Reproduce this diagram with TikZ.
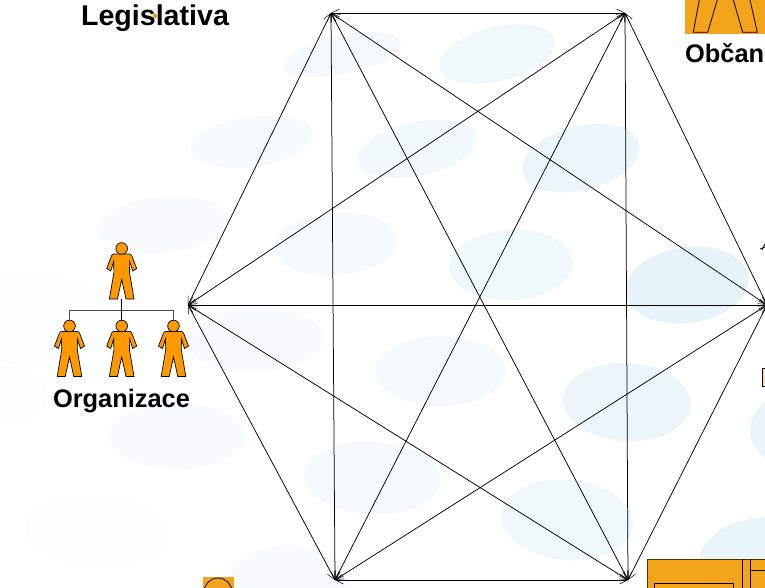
\documentclass[tikz,border=0pt]{standalone}
\usepackage{fontspec}
\setmainfont{Liberation Sans}
\usetikzlibrary{arrows.meta}
\definecolor{paleblue}{HTML}{DCEFF6}
\definecolor{figorange}{HTML}{FF9900}
\definecolor{boxorange}{HTML}{F4A41A}
\tikzset{
  x=1pt,y=-1pt,
  link/.style={line width=0.75pt,black,{Straight Barb[length=8pt,width=8pt,line width=0.5pt]}-{Straight Barb[length=8pt,width=8pt,line width=0.5pt]}},
  label/.style={inner sep=0pt,font=\bfseries,text=black},
  figure/.style={draw=black,line width=0.7pt,fill=figorange,line join=miter},
  boxline/.style={draw=black,line width=0.8pt},
  tree/.style={draw=black!70,line width=1pt},
  pics/person/.style={code={
    \path[figure] (0,5.5) -- (8.5,5.5) -- (10,7) -- (15,20) -- (11,22.5) -- (8,13) -- (7.8,24)
      -- (12.3,50.5) -- (4.3,50.5) -- (0,31) -- (-4.3,50.5) -- (-12.3,50.5) -- (-7.8,24)
      -- (-8,13) -- (-11,22.5) -- (-15,20) -- (-10,7) -- (-8.5,5.5) -- cycle;
    \path[figure] (0,0) circle [radius=5.8pt];
  }}
}
\begin{document}
\begin{tikzpicture}
\useasboundingbox (0,0) rectangle (765,588);
\clip (0,0) rectangle (765,588);
\fill[white] (0,0) rectangle (765,588);
% background ellipses
\foreach \ex/\ey/\ea/\eb/\rot/\tint in {
  342/55/60/19/12/35, 497/54/59/27/14/45,
  252/142/62/25/8/25, 417/149/61/27/12/40, 581/158/60/32/14/55,
  163/225/65/28/5/17, 336/244/63/31/5/30, 511/265/62/35/3/45, 687/285/62/38/8/72,
  30/320/85/45/0/12, 256/340/68/32/2/20, 441/371/65/35/0/36, 627/402/64/39/-3/55, 800/430/50/40/0/60,
  0/395/48/30/0/12, 177/436/68/33/0/18, 372/478/68/36/-3/32, 567/520/66/40/-5/45, 770/565/72/48/0/65,
  97/531/72/35/-3/11, 290/582/60/36/-3/20} {
  \fill[paleblue!\tint!white,shift={(\ex,\ey)},rotate=\rot] (0,0) ellipse [x radius=\ea pt,y radius=\eb pt];
}
% hexagon corners
\coordinate (A) at (331,13);
\coordinate (B) at (625,13);
\coordinate (C) at (767,305);
\coordinate (D) at (628,580);
\coordinate (E) at (335,580);
\coordinate (F) at (188,305);
\draw[link] (A) -- (B);
\draw[link] (B) -- (C);
\draw[link] (C) -- (D);
\draw[link] (D) -- (E);
\draw[link] (E) -- (F);
\draw[link] (F) -- (A);
\draw[link] (A) -- (C);
\draw[link] (A) -- (D);
\draw[link] (A) -- (E);
\draw[link] (B) -- (D);
\draw[link] (B) -- (E);
\draw[link] (B) -- (F);
\draw[link] (C) -- (E);
\draw[link] (C) -- (F);
\draw[link] (D) -- (F);
% organisation tree
\coordinate (treetop) at (121.7,299);
\coordinate (treebar) at (121.7,310);
\coordinate (treeL) at (69.5,310);
\coordinate (treeR) at (173.5,310);
\coordinate (treeLd) at (69.5,322);
\coordinate (treeMd) at (121.7,322);
\coordinate (treeRd) at (173.5,322);
\draw[tree] (treeLd) -- (treeL) -- (treeR) -- (treeRd);
\draw[line width=0.8pt,black] (treetop) -- (treeMd);
\pic at (121.7,248.5) {person};
\pic at (69.5,326) {person};
\pic at (121.7,326) {person};
\pic at (173.5,326) {person};
% labels
\node[label,font=\bfseries\fontsize{28.6}{30}\selectfont,anchor=base] (legis) at (155,26) {Legislativa};
\fill[figorange] (155,16) circle [radius=2.3pt];
\node[label,font=\bfseries\fontsize{25.4}{28}\selectfont,anchor=base] (org) at (121.5,407) {Organizace};
% citizen box
\fill[boxorange] (685,0) rectangle (765,33.7);
\draw[boxline] (699.3,0) -- (693.3,32.3) -- (707.7,32.3) -- (717.3,0);
\draw[boxline] (733.3,0) -- (742.7,32.3) -- (757.3,32.3) -- (750,0);
\node[label,font=\bfseries\fontsize{25.4}{28}\selectfont,anchor=base west] (obcan) at (685,63) {Občan};
% cropped shapes at the edges
\fill[boxorange] (203,577) rectangle (234,588);
\draw[boxline] (218,592) circle [radius=14pt];
\fill[boxorange] (647,559) rectangle (765,588);
\draw[line width=1pt,black!70!boxorange] (647.5,588) -- (647.5,559.5) -- (765,559.5);
\draw[boxline] (742,559) -- (742,588);
\draw[boxline] (750,559) -- (750,588);
\draw[boxline] (750,570) -- (765,570);
\draw[boxline] (654,588) -- (654,583) -- (733,583) -- (733,588);
\draw[line width=0.7pt,black,fill=boxorange!35!white] (762.5,368) rectangle (770,386);
\draw[line width=0.8pt,black] (762,250) -- (765,244);
\draw[line width=0.8pt,black] (760,249) -- (765,247);
\end{tikzpicture}
\end{document}
